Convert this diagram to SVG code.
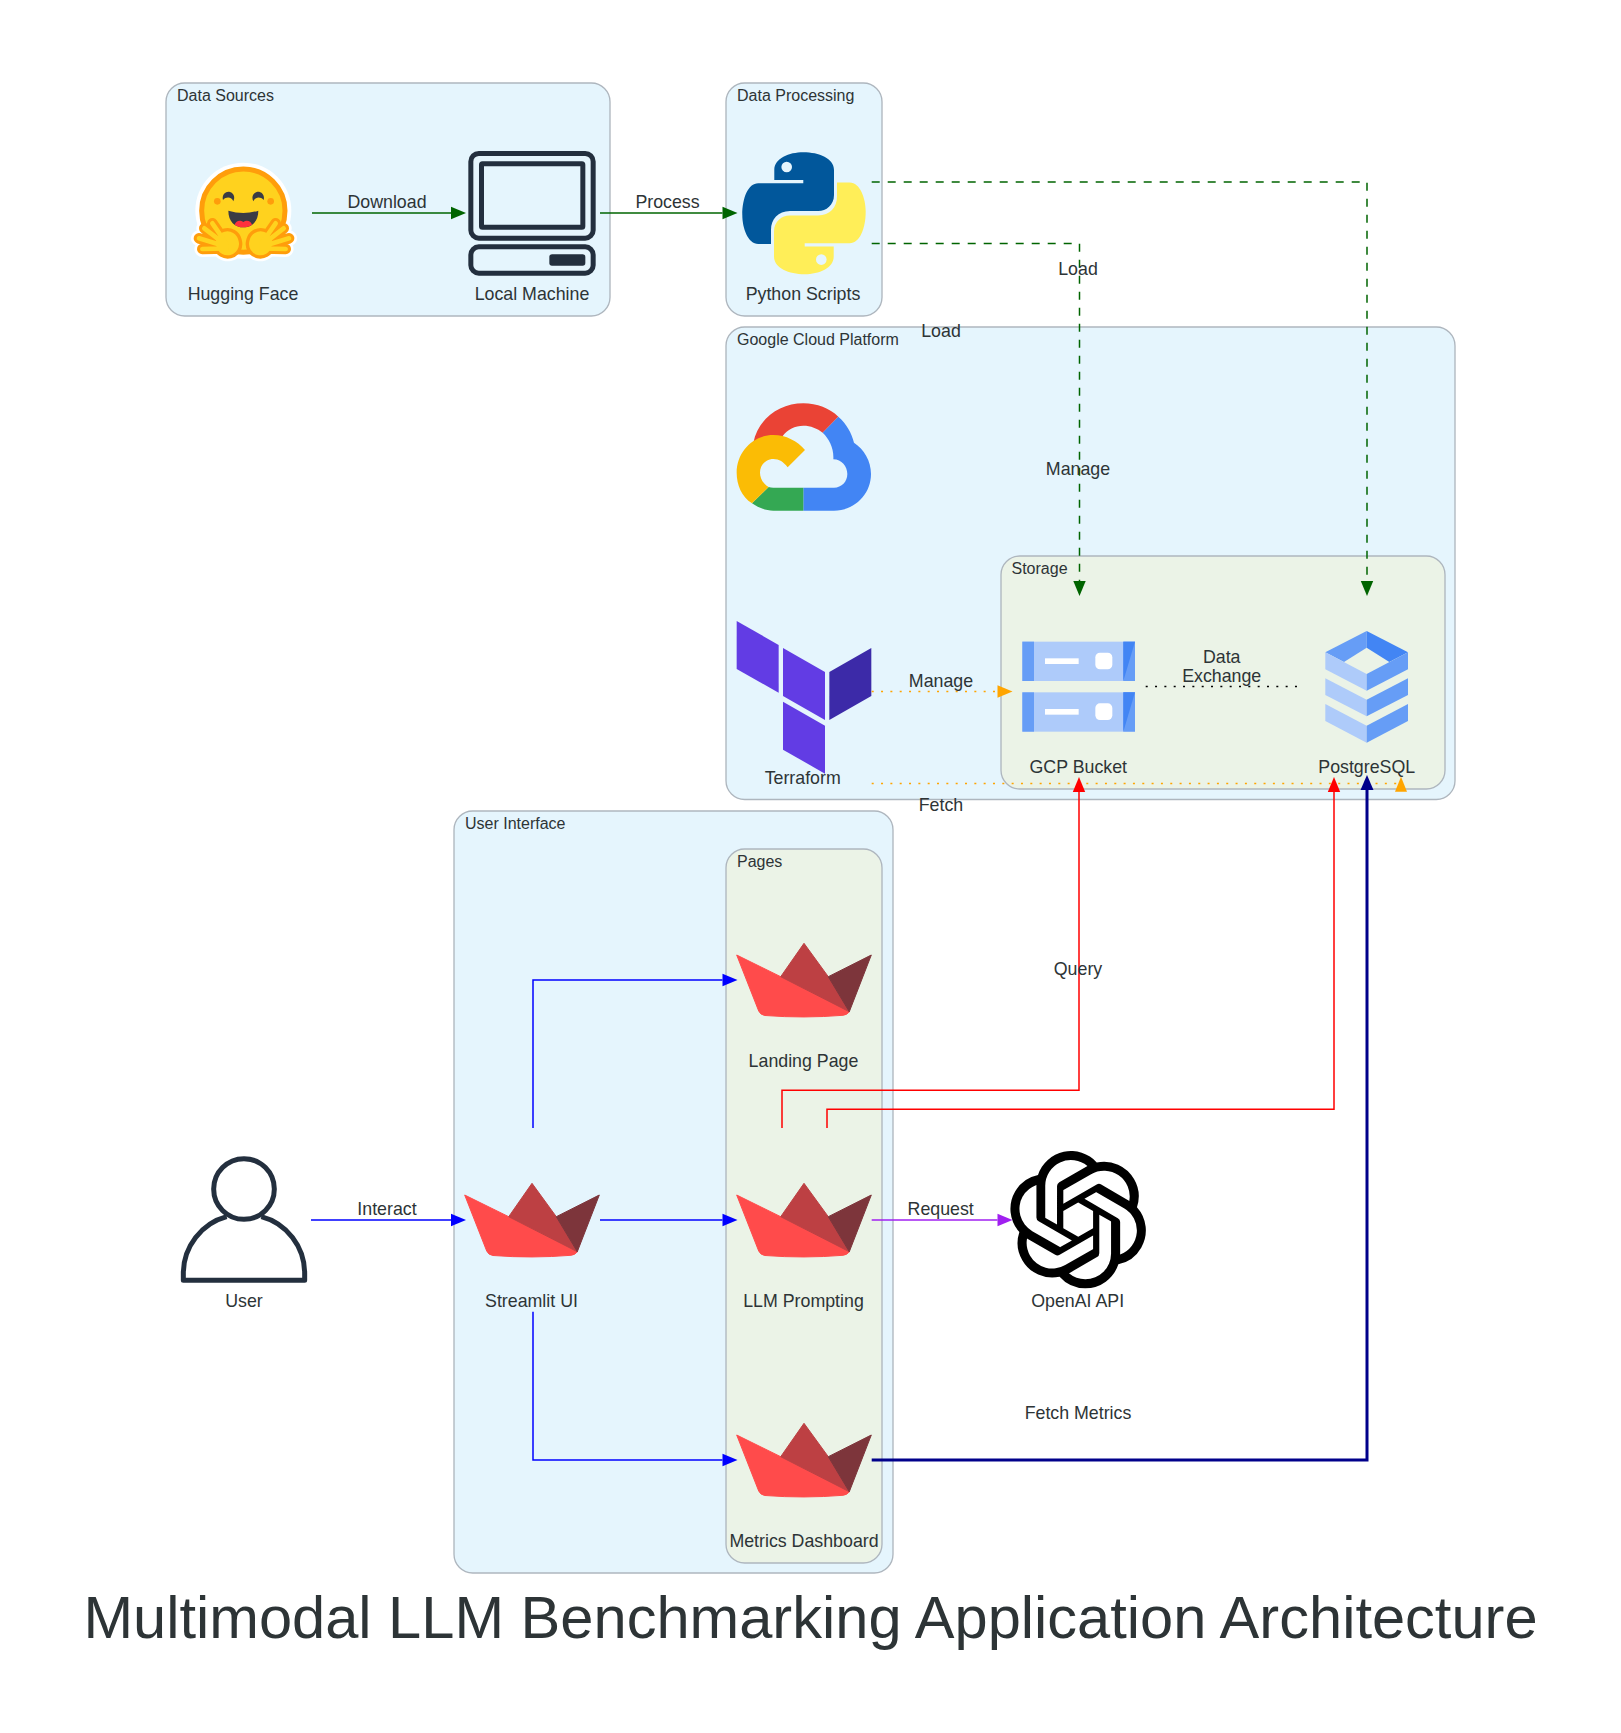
<svg xmlns="http://www.w3.org/2000/svg" xmlns:xlink="http://www.w3.org/1999/xlink" width="1621" height="1733" viewBox="0 0 1621 1733">
<style>
text{font-family:"Liberation Sans",Arial,Helvetica,sans-serif;fill:#2D3436}
.cl{font-size:16px}
.nl,.el{font-size:17.8px;text-anchor:middle}
.title{font-size:59.6px;text-anchor:middle}
.c1{fill:#E5F5FD;stroke:#AEB6BE;stroke-width:1.33}
.c2{fill:#EBF3E7;stroke:#AEB6BE;stroke-width:1.33}
.e{fill:none;stroke-width:1.5}
.dash{stroke-dasharray:8 8}
.dot{stroke-dasharray:2 7.33}
marker{overflow:visible}
</style>
<defs>
<marker id="mg" markerUnits="userSpaceOnUse" markerWidth="15" markerHeight="14" refX="0" refY="7" orient="auto"><path d="M0 .8L15 7L0 13.2Z" fill="#006400"/></marker>
<marker id="mb" markerUnits="userSpaceOnUse" markerWidth="15" markerHeight="14" refX="0" refY="7" orient="auto"><path d="M0 .8L15 7L0 13.2Z" fill="#0000FF"/></marker>
<marker id="mr" markerUnits="userSpaceOnUse" markerWidth="15" markerHeight="14" refX="0" refY="7" orient="auto"><path d="M0 .8L15 7L0 13.2Z" fill="#FF0000"/></marker>
<marker id="mo" markerUnits="userSpaceOnUse" markerWidth="15" markerHeight="14" refX="0" refY="7" orient="auto"><path d="M0 .8L15 7L0 13.2Z" fill="#FFA500"/></marker>
<marker id="mp" markerUnits="userSpaceOnUse" markerWidth="15" markerHeight="14" refX="0" refY="7" orient="auto"><path d="M0 .8L15 7L0 13.2Z" fill="#A020F0"/></marker>
<marker id="mn" markerUnits="userSpaceOnUse" markerWidth="15" markerHeight="14" refX="0" refY="7" orient="auto"><path d="M0 .5L15 7L0 13.5Z" fill="#00008B"/></marker>
<g id="boat">
<path d="M-67.3-25L-23.3-3.3L45.3 31.7Q43 35 39 35.3Q0 38.5-39 35.5Q-43.5 35-45.3 31Z" fill="#FF4B4B" stroke="#FF4B4B" stroke-width="1" stroke-linejoin="round"/>
<path d="M0-36.7L-23.3-3.3L45.3 31.7L24.3-3.3Z" fill="#BD4043" stroke="#BD4043" stroke-width="1" stroke-linejoin="round"/>
<path d="M24.3-3.3L67.3-25L45.3 31.7Z" fill="#7D353B" stroke="#7D353B" stroke-width="1" stroke-linejoin="round"/>
</g>
<g id="bar">
<rect x="97" y="0" width="338" height="118" fill="#AECBFA"/>
<rect x="97" y="0" width="35" height="118" fill="#669DF6"/>
<rect x="400" y="0" width="35" height="118" fill="#669DF6"/>
<path d="M400 0H435L400 118Z" fill="#4285F4"/>
<rect x="165" y="50" width="101" height="17" fill="#fff"/>
<rect x="316" y="33" width="51" height="50" rx="14" fill="#fff"/>
</g>
<path id="fingers" d="M127 250L170 312M103 265L170 317M87 295L170 320M97 327L170 325" fill="none" stroke-linecap="round"/>
<path id="palm" d="M172 308L173 312" fill="none" stroke-linecap="round"/>
</defs>
<rect width="1621" height="1733" fill="#fff"/>

<g id="cluster-data-sources"><rect class="c1" x="166" y="83" width="444" height="233" rx="18.7"/><text class="cl" x="177" y="101">Data Sources</text></g>
<g id="cluster-data-processing"><rect class="c1" x="726" y="83" width="156" height="233" rx="18.7"/><text class="cl" x="737" y="101">Data Processing</text></g>
<g id="cluster-gcp"><rect class="c1" x="726" y="327" width="729" height="472.5" rx="18.7"/><text class="cl" x="737" y="345">Google Cloud Platform</text></g>
<g id="cluster-storage"><rect class="c2" x="1001" y="556" width="444" height="233" rx="18.7"/><text class="cl" x="1011.5" y="574">Storage</text></g>
<g id="cluster-ui"><rect class="c1" x="454" y="811" width="439" height="762" rx="18.7"/><text class="cl" x="465" y="829">User Interface</text></g>
<g id="cluster-pages"><rect class="c2" x="726" y="849" width="156" height="714" rx="18.7"/><text class="cl" x="737" y="867">Pages</text></g>

<g id="node-hugging-face">
<g transform="translate(170 140) scale(.33333)">
<circle cx="220" cy="212" r="144" fill="#fff"/>
<use xlink:href="#fingers" href="#fingers" stroke="#fff" stroke-width="48"/><use xlink:href="#palm" href="#palm" stroke="#fff" stroke-width="104"/>
<use transform="translate(444 0) scale(-1 1)" xlink:href="#fingers" href="#fingers" stroke="#fff" stroke-width="48"/><use transform="translate(444 0) scale(-1 1)" xlink:href="#palm" href="#palm" stroke="#fff" stroke-width="104"/>
<circle cx="220" cy="212" r="125" fill="#FFD21E" stroke="#FF9D0B" stroke-width="15"/>
<circle cx="142" cy="184" r="10" fill="#FF9D0B"/><circle cx="302" cy="184" r="10" fill="#FF9D0B"/>
<path d="M159 180C154 160 172 152 180 156C192 160 196 172 190 184C186 172 170 168 159 180Z" fill="#3A3B45"/>
<path d="M281 180C286 160 268 152 260 156C248 160 244 172 250 184C254 172 270 168 281 180Z" fill="#3A3B45"/>
<path d="M175 212Q220 226 265 212C265 245 245 262 220 262C195 262 175 245 175 212Z" fill="#3A3B45"/>
<path d="M194 254C198 240 212 240 220 246C228 240 242 240 246 254C238 260 230 262 220 262C210 262 202 260 194 254Z" fill="#FF323D"/>
<use xlink:href="#fingers" href="#fingers" stroke="#FF9D0B" stroke-width="32"/><use xlink:href="#palm" href="#palm" stroke="#FF9D0B" stroke-width="88"/>
<use transform="translate(444 0) scale(-1 1)" xlink:href="#fingers" href="#fingers" stroke="#FF9D0B" stroke-width="32"/><use transform="translate(444 0) scale(-1 1)" xlink:href="#palm" href="#palm" stroke="#FF9D0B" stroke-width="88"/>
<use xlink:href="#palm" href="#palm" stroke="#FFD21E" stroke-width="68"/><use xlink:href="#fingers" href="#fingers" stroke="#FFD21E" stroke-width="14"/>
<use transform="translate(444 0) scale(-1 1)" xlink:href="#palm" href="#palm" stroke="#FFD21E" stroke-width="68"/><use transform="translate(444 0) scale(-1 1)" xlink:href="#fingers" href="#fingers" stroke="#FFD21E" stroke-width="14"/>
</g>
<text class="nl" x="243" y="300">Hugging Face</text></g>

<g id="node-local-machine">
<g transform="translate(460 145) scale(.33333)" fill="none" stroke="#232F3E" stroke-width="15">
<rect x="32.5" y="25.5" width="367" height="254" rx="24"/>
<rect x="64.5" y="56" width="304" height="191" rx="3"/>
<rect x="32.5" y="305.5" width="367" height="79" rx="24"/>
<rect x="268" y="328" width="108" height="34" rx="8" fill="#232F3E" stroke="none"/>
</g>
<text class="nl" x="532" y="300">Local Machine</text></g>

<g id="node-python">
<g transform="translate(804 213.3)">
<g><path d="M-29.7-33.3V-43.3C-29.7-55-15-61-.7-61C15-61 30-55 30-43.3V-18.3C30-8 22-2.3 14.3-2.3H-14C-26-2.3-33 6-33 16.7V30.7H-45.7C-56 30.7-61.7 15-61.7 1.7C-61.7-15-56-30-45.7-30H-.7V-33.3Z" fill="#01579B"/><circle cx="-17.3" cy="-46.3" r="5.3" fill="#E5F5FD"/></g>
<g transform="rotate(180)"><path d="M-29.7-33.3V-43.3C-29.7-55-15-61-.7-61C15-61 30-55 30-43.3V-18.3C30-8 22-2.3 14.3-2.3H-14C-26-2.3-33 6-33 16.7V30.7H-45.7C-56 30.7-61.7 15-61.7 1.7C-61.7-15-56-30-45.7-30H-.7V-33.3Z" fill="#FFEE58"/><circle cx="-17.3" cy="-46.3" r="5.3" fill="#E5F5FD"/></g>
</g>
<text class="nl" x="803" y="300">Python Scripts</text></g>

<g id="node-gcp">
<g transform="translate(730 390) scale(.33333)">
<path d="M70 158C85 85 150 40 220 40C262 40 298 55 325 80L278 128C262 115 242 107 220 107C195 107 172 118 158 138Z" fill="#EA4335"/>
<path d="M325 80C350 102 365 130 372 158C402 178 423 212 423 252C423 313 373 362 312 362H220V293H312C335 293 352 275 352 252C352 230 335 208 310 208C312 175 298 147 278 128Z" fill="#4285F4"/>
<path d="M220 362H130C108 362 85 353 66 340L116 291Q122 293 130 293H220Z" fill="#34A853"/>
<path d="M66 340C35 320 20 285 20 248C20 185 70 135 130 135C168 135 202 153 225 180L173 232C160 215 148 207 130 207C108 207 90 225 90 248C90 265 100 283 116 291Z" fill="#FBBC05"/>
</g></g>

<g id="node-terraform">
<g transform="translate(720 320) scale(.33333)">
<path d="M50 903L176 975V1118L50 1047Z" fill="#623CE4"/>
<path d="M189 984L315 1056V1200L189 1128Z" fill="#623CE4"/>
<path d="M328 1056L454 984V1128L328 1200Z" fill="#3C2AA8"/>
<path d="M189 1145L315 1217V1361L189 1289Z" fill="#623CE4"/>
</g>
<text class="nl" x="802.7" y="784">Terraform</text></g>

<g id="node-gcp-bucket">
<g transform="translate(990 550) scale(.33333)"><use xlink:href="#bar" href="#bar" y="275"/><use xlink:href="#bar" href="#bar" y="427"/></g>
<text class="nl" x="1078.3" y="772.7">GCP Bucket</text></g>

<g id="node-postgresql">
<g transform="translate(990 550) scale(.33333)">
<path d="M1130 243L1006 307L1062 336L1130 293Z" fill="#669DF6"/>
<path d="M1130 243L1254 307L1198 336L1130 293Z" fill="#4285F4"/>
<path d="M1006 307L1130 372V422L1006 358Z" fill="#AECBFA"/>
<path d="M1254 307L1130 372V422L1254 358Z" fill="#669DF6"/>
<path d="M1006 385L1130 449V499L1006 435Z" fill="#AECBFA"/>
<path d="M1254 385L1130 449V499L1254 435Z" fill="#669DF6"/>
<path d="M1006 462L1130 527V578L1006 513Z" fill="#AECBFA"/>
<path d="M1254 462L1130 527V578L1254 513Z" fill="#669DF6"/>
</g>
<text class="nl" x="1366.7" y="772.7">PostgreSQL</text></g>

<g id="node-streamlit-ui"><use xlink:href="#boat" href="#boat" x="532" y="1220"/><text class="nl" x="531.5" y="1307">Streamlit UI</text></g>
<g id="node-landing-page"><use xlink:href="#boat" href="#boat" x="804" y="980"/><text class="nl" x="803.5" y="1067">Landing Page</text></g>
<g id="node-llm-prompting"><use xlink:href="#boat" href="#boat" x="804" y="1220"/><text class="nl" x="803.5" y="1307">LLM Prompting</text></g>
<g id="node-metrics-dashboard"><use xlink:href="#boat" href="#boat" x="804" y="1460"/><text class="nl" x="804" y="1547">Metrics Dashboard</text></g>

<g id="node-user">
<g transform="translate(150 1130) scale(.33333)" fill="none" stroke="#232F3E" stroke-width="15" stroke-linejoin="round">
<circle cx="282" cy="177" r="91"/>
<path d="M230 260C155 280 100 350 100 430V451H464V430C464 350 410 280 334 260"/>
</g>
<text class="nl" x="244" y="1306.7">User</text></g>

<g id="node-openai">
<path transform="translate(1009.5 1151) scale(5.72)" fill="#000" d="M22.2819 9.8211a5.9847 5.9847 0 0 0-.5157-4.9108 6.0462 6.0462 0 0 0-6.5098-2.9A6.0651 6.0651 0 0 0 4.9807 4.1818a5.9847 5.9847 0 0 0-3.9977 2.9 6.0462 6.0462 0 0 0 .7427 7.0966 5.98 5.98 0 0 0 .511 4.9107 6.051 6.051 0 0 0 6.5146 2.9001A5.9847 5.9847 0 0 0 13.2599 24a6.0557 6.0557 0 0 0 5.7718-4.2058 5.9894 5.9894 0 0 0 3.9977-2.9001 6.0557 6.0557 0 0 0-.7475-7.0729zm-9.022 12.6081a4.4755 4.4755 0 0 1-2.8764-1.0408l.1419-.0804 4.7783-2.7582a.7948.7948 0 0 0 .3927-.6813v-6.7369l2.02 1.1686a.071.071 0 0 1 .038.052v5.5826a4.504 4.504 0 0 1-4.4945 4.4944zm-9.6607-4.1254a4.4708 4.4708 0 0 1-.5346-3.0137l.142.0852 4.783 2.7582a.7712.7712 0 0 0 .7806 0l5.8428-3.3685v2.3324a.0804.0804 0 0 1-.0332.0615L9.74 19.9502a4.4992 4.4992 0 0 1-6.1408-1.6464zM2.3408 7.8956a4.485 4.485 0 0 1 2.3655-1.9728V11.6a.7664.7664 0 0 0 .3879.6765l5.8144 3.3543-2.0201 1.1685a.0757.0757 0 0 1-.071 0l-4.8303-2.7865A4.504 4.504 0 0 1 2.3408 7.872zm16.5963 3.8558L13.1038 8.364 15.1192 7.2a.0757.0757 0 0 1 .071 0l4.8303 2.7913a4.4944 4.4944 0 0 1-.6765 8.1042v-5.6772a.79.79 0 0 0-.407-.667zm2.0107-3.0231l-.142-.0852-4.7735-2.7818a.7759.7759 0 0 0-.7854 0L9.409 9.2297V6.8974a.0662.0662 0 0 1 .0284-.0615l4.8303-2.7866a4.4992 4.4992 0 0 1 6.6802 4.66zM8.3065 12.863l-2.02-1.1638a.0804.0804 0 0 1-.038-.0567V6.0742a4.4992 4.4992 0 0 1 7.3757-3.4537l-.142.0805L8.704 5.459a.7948.7948 0 0 0-.3927.6813zm1.0976-2.3654l2.602-1.4998 2.6069 1.4998v2.9994l-2.5974 1.4997-2.6067-1.4997Z"/>
<text class="nl" x="1077.7" y="1306.7">OpenAI API</text></g>

<g id="connectors">
<path class="e" stroke="#006400" marker-end="url(#mg)" d="M312 213H451"/>
<text class="el" x="387" y="208">Download</text>
<path class="e" stroke="#006400" marker-end="url(#mg)" d="M600 213H722.5"/>
<text class="el" x="667.5" y="208">Process</text>
<path class="e dash" stroke="#006400" marker-end="url(#mg)" d="M871.7 243.5H1079.5V581"/>
<text class="el" x="1078" y="274.5">Load</text>
<path class="e dash" stroke="#006400" marker-end="url(#mg)" d="M871.7 182H1367V581"/>
<text class="el" x="941" y="337">Load</text>
<text class="el" x="1078" y="475">Manage</text>
<path class="e dot" stroke="#FFA500" marker-end="url(#mo)" d="M871.7 691.5H997.5"/>
<text class="el" x="941" y="687">Manage</text>
<path class="e dot" stroke="#FFA500" d="M871.7 783.5H1401"/>
<path d="M1401 776.7L1407 791.7H1395Z" fill="#FFA500"/>
<text class="el" x="941" y="811">Fetch</text>
<path class="e dot" stroke="#000" d="M1145.7 686.5H1300"/>
<text class="el" x="1221.7" y="663.3">Data</text>
<text class="el" x="1221.7" y="682.3">Exchange</text>
<path class="e" stroke="#FF0000" marker-end="url(#mr)" d="M782 1128V1090.3H1079V792"/>
<path class="e" stroke="#FF0000" marker-end="url(#mr)" d="M827 1128V1109.3H1334V792"/>
<text class="el" x="1078" y="974.5">Query</text>
<path class="e" stroke="#00008B" style="stroke-width:3" marker-end="url(#mn)" d="M871.7 1460H1367V790"/>
<text class="el" x="1078" y="1418.5">Fetch Metrics</text>
<path class="e" stroke="#0000FF" marker-end="url(#mb)" d="M311 1220H451"/>
<text class="el" x="387" y="1215">Interact</text>
<path class="e" stroke="#0000FF" marker-end="url(#mb)" d="M533 1128V980H722.5"/>
<path class="e" stroke="#0000FF" marker-end="url(#mb)" d="M600 1220H722.5"/>
<path class="e" stroke="#0000FF" marker-end="url(#mb)" d="M533 1311.7V1460H722.5"/>
<path class="e" stroke="#A020F0" marker-end="url(#mp)" d="M871.7 1220H997.5"/>
<text class="el" x="940.7" y="1215">Request</text>
</g>
<text id="title" class="title" x="810.5" y="1638">Multimodal LLM Benchmarking Application Architecture</text>
</svg>
